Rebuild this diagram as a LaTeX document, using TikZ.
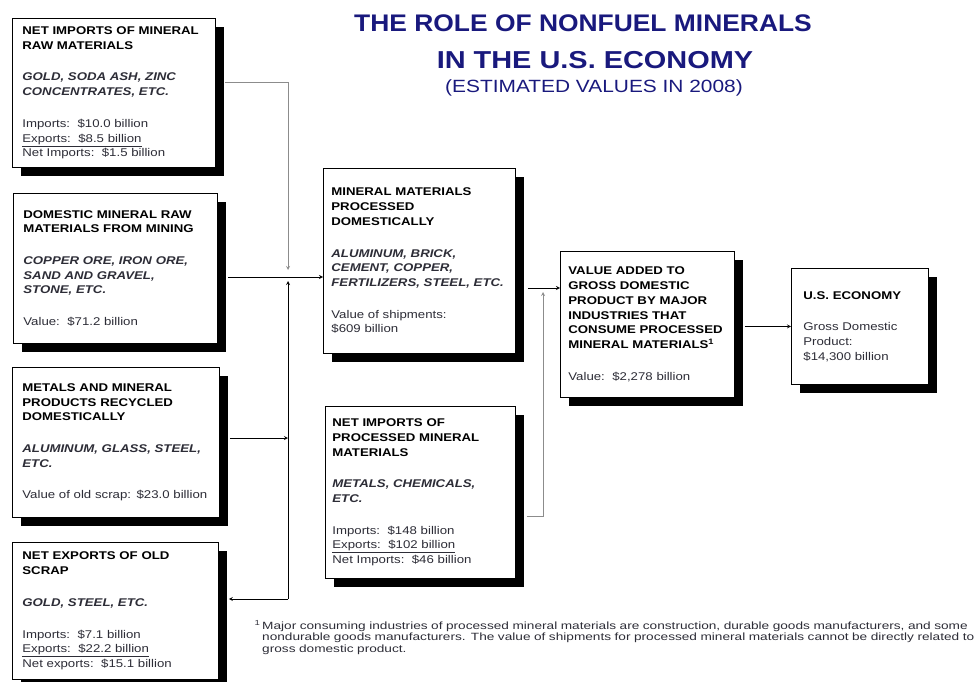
\documentclass[tikz,border=0pt]{standalone}
\usepackage{fontspec}
\setmainfont{Liberation Sans}[FakeStretch=1.18]
\newfontfamily\notefont{Liberation Sans}[FakeStretch=1.3]
\newfontfamily\headfont{Liberation Sans}[FakeStretch=1.1]
\usetikzlibrary{shadows}
\usetikzlibrary{arrows,shapes}
\usetikzlibrary{calc}
\definecolor{titleblue}{RGB}{25,25,125}
\definecolor{inkgray}{RGB}{45,45,55}
\newcommand{\boxfont}{\fontsize{11.2}{14.7}\selectfont}
\tikzstyle{flowbox}=[draw=black,fill=white,line width=0.8pt,anchor=north west,inner xsep=10pt,inner ysep=2pt,align=left,text=inkgray,font=\boxfont,drop shadow={shadow xshift=9pt,shadow yshift=-9pt,fill=black,opacity=1}]
\tikzstyle{link} = [draw,line width=0.8pt,->,>=stealth]
\tikzstyle{greylink} = [link,draw=black!45]
\tikzstyle{titletext} = [text=titleblue,inner sep=0pt]

\begin{document}
\begin{tikzpicture}[x=1pt,y=-1pt]
    \useasboundingbox (0,0) rectangle (977,682);
    % Title
    \node[titletext,font=\headfont\fontsize{24}{28}\selectfont\bfseries] (title) at (583,23) {THE ROLE OF NONFUEL MINERALS};
    \node[titletext,font=\fontsize{24.5}{28}\selectfont\bfseries] (title2) at (595,60) {IN THE U.S. ECONOMY};
    \node[titletext,font=\fontsize{17.7}{20}\selectfont] (subtitle) at (594,88) {(ESTIMATED VALUES IN 2008)};

    % Boxes on the left
    \node[flowbox,minimum width=203pt,minimum height=149pt,text width=183pt] (netraw) at (12,18) {%
      \textbf{\color{black}NET IMPORTS OF MINERAL\\RAW MATERIALS}\\[17pt]
      \textbf{\textit{GOLD, SODA ASH, ZINC\\CONCENTRATES, ETC.}}\\[17pt]
      Imports:\ \ \$10.0 billion\\
      \underline{Exports:\ \ \$8.5 billion}\\
      Net Imports:\ \ \$1.5 billion};
    \node[flowbox,minimum width=204pt,minimum height=150pt,text width=184pt] (mining) at (13,193) {%
      \textbf{\color{black}DOMESTIC MINERAL RAW\\MATERIALS FROM MINING}\\[17pt]
      \textbf{\textit{COPPER ORE, IRON ORE,\\SAND AND GRAVEL,\\STONE, ETC.}}\\[17pt]
      Value:\ \ \$71.2 billion};
    \node[flowbox,minimum width=207pt,minimum height=150pt,text width=187pt] (recycled) at (12,367) {%
      \textbf{\color{black}METALS AND MINERAL\\PRODUCTS RECYCLED\\DOMESTICALLY}\\[17pt]
      \textbf{\textit{ALUMINUM, GLASS, STEEL,\\ETC.}}\\[17pt]
      Value of old scrap: \$23.0 billion};
    \node[flowbox,minimum width=206pt,minimum height=137pt,text width=186pt] (scrap) at (12,542) {%
      \textbf{\color{black}NET EXPORTS OF OLD\\SCRAP}\\[17pt]
      \textbf{\textit{GOLD, STEEL, ETC.}}\\[17pt]
      Imports:\ \ \$7.1 billion\\
      \underline{Exports:\ \ \$22.2 billion}\\
      Net exports:\ \ \$15.1 billion};

    % Middle and right boxes
    \node[flowbox,inner xsep=8pt,minimum width=192pt,minimum height=185pt,text width=176pt] (processed) at (323,168) {%
      \textbf{\color{black}MINERAL MATERIALS\\PROCESSED\\DOMESTICALLY}\\[17pt]
      \textbf{\textit{ALUMINUM, BRICK,\\CEMENT, COPPER,\\FERTILIZERS, STEEL, ETC.}}\\[17pt]
      Value of shipments:\\\$609 billion};
    \node[flowbox,inner xsep=7pt,minimum width=190pt,minimum height=172pt,text width=176pt] (netproc) at (325,406) {%
      \textbf{\color{black}NET IMPORTS OF\\PROCESSED MINERAL\\MATERIALS}\\[17pt]
      \textbf{\textit{METALS, CHEMICALS,\\ETC.}}\\[17pt]
      Imports:\ \ \$148 billion\\
      \underline{Exports:\ \ \$102 billion}\\
      Net Imports:\ \ \$46 billion};
    \node[flowbox,inner xsep=8pt,minimum width=174pt,minimum height=146pt,text width=158pt] (valueadded) at (560,251) {%
      \textbf{\color{black}VALUE ADDED TO\\GROSS DOMESTIC\\PRODUCT BY MAJOR\\INDUSTRIES THAT\\CONSUME PROCESSED\\MINERAL MATERIALS\textsuperscript{1}}\\[17pt]
      Value:\ \ \$2,278 billion};
    \node[flowbox,inner xsep=12pt,minimum width=137pt,minimum height=116pt,text width=113pt] (econ) at (791,268) {%
      \textbf{\color{black}U.S. ECONOMY}\\[17pt]
      Gross Domestic\\Product:\\\$14,300 billion};

    % Footnote
    \node[anchor=north west,text width=715pt,align=left,inner sep=0pt,text=inkgray,font=\notefont\fontsize{10.5}{11.7}\selectfont] (note) at (262,620) {%
      \llap{\textsuperscript{1}\,}Major consuming industries of processed mineral materials are construction, durable goods manufacturers, and some\\
      nondurable goods manufacturers. The value of shipments for processed mineral materials cannot be directly related to\\
      gross domestic product.};

    % Junctions of the connectors
    \coordinate (rawbend) at (288,82);
    \coordinate (tee) at (288,277);
    \coordinate (recyin) at (288,438);
    \coordinate (low) at (288,599);
    \coordinate (procout) at (543,288);
    \coordinate (risefoot) at (543,516);

    % Connectors
    \path[greylink] ([xshift=9pt]netraw.east |- rawbend) -- (rawbend) -- ([yshift=7pt]tee);
    \path[link] ([xshift=10pt]mining.east |- tee) -- (processed.west |- tee);
    \path[link] ([xshift=10pt]recycled.east |- recyin) -- (recyin);
    \path[link] (low) -- ([yshift=-4pt]tee);
    \path[link] (low) -- ([xshift=10pt]scrap.east |- low);
    \path[link] ([xshift=12pt]processed.east |- procout) -- (valueadded.west |- procout);
    \path[greylink] ([xshift=11pt]netproc.east |- risefoot) -- (risefoot) -- ([yshift=-4pt]procout);
    \path[link] ([xshift=10pt]valueadded.east |- econ.west) -- (econ.west);
\end{tikzpicture}
\end{document}
